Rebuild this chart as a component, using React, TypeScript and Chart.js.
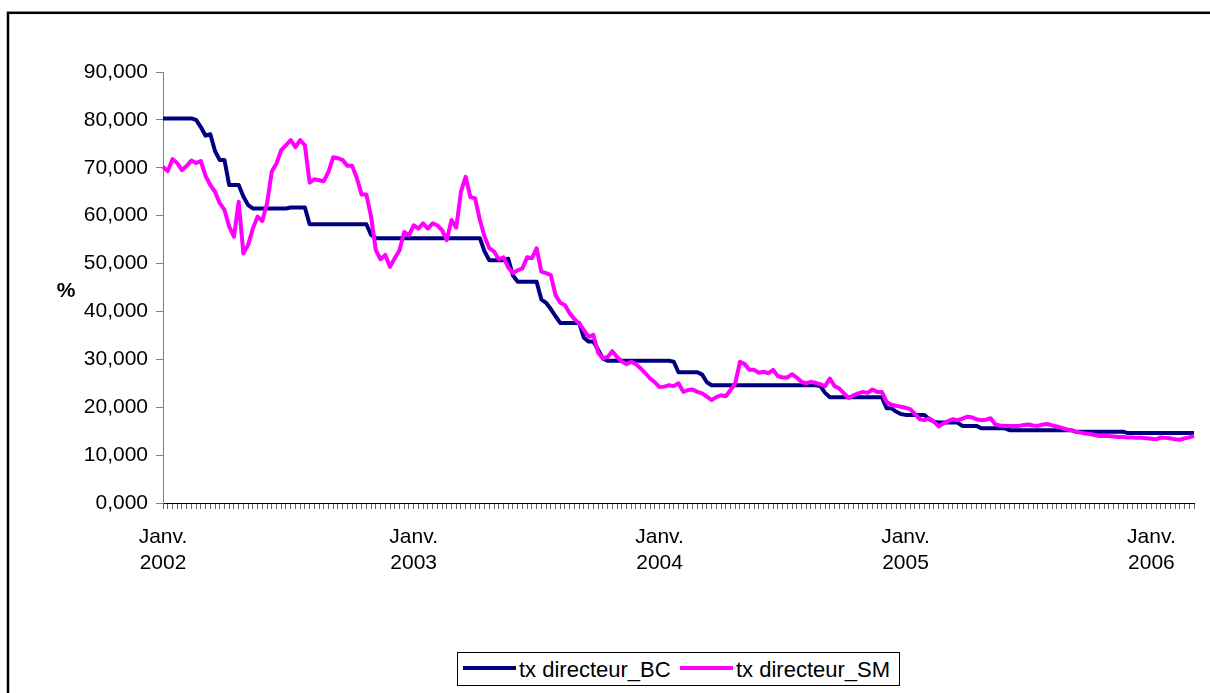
import React, { useEffect, useRef } from "react";
import { Chart, registerables } from "chart.js";

Chart.register(...registerables);

// Weekly observations, first week = 1 Jan 2002
const startDate = Date.UTC(2002, 0, 1);
const weekMs = 7 * 24 * 3600 * 1000;

const txBC: number[] = [
  80.3, 80.3, 80.3, 80.3, 80.3, 80.3, 80.3, 80.0, 78.5, 76.7,
  77.0, 73.5, 71.6, 71.6, 66.4, 66.4, 66.4, 64.0, 62.2, 61.5,
  61.5, 61.5, 61.5, 61.5, 61.5, 61.5, 61.5, 61.7, 61.7, 61.7,
  61.7, 58.2, 58.2, 58.2, 58.2, 58.2, 58.2, 58.2, 58.2, 58.2,
  58.2, 58.2, 58.2, 58.2, 56.0, 55.3, 55.3, 55.3, 55.3, 55.3,
  55.3, 55.3, 55.3, 55.3, 55.3, 55.3, 55.3, 55.3, 55.3, 55.3,
  55.3, 55.3, 55.3, 55.3, 55.3, 55.3, 55.3, 55.3, 52.5, 50.7,
  50.7, 50.7, 50.7, 51.0, 47.5, 46.2, 46.2, 46.2, 46.2, 46.2,
  42.5, 41.8, 40.5, 39.0, 37.6, 37.6, 37.6, 37.6, 37.6, 34.5,
  33.7, 33.7, 32.0, 30.2, 29.7, 29.7, 29.7, 29.7, 29.7, 29.7,
  29.7, 29.7, 29.7, 29.7, 29.7, 29.7, 29.7, 29.7, 29.5, 27.3,
  27.3, 27.3, 27.3, 27.3, 26.8, 25.2, 24.6, 24.6, 24.6, 24.6,
  24.6, 24.6, 24.6, 24.6, 24.6, 24.6, 24.6, 24.6, 24.6, 24.6,
  24.6, 24.6, 24.6, 24.6, 24.6, 24.6, 24.6, 24.6, 24.6, 24.4,
  23.0, 22.1, 22.1, 22.1, 22.1, 22.1, 22.1, 22.1, 22.1, 22.1,
  22.1, 22.1, 22.1, 19.8, 19.8, 19.1, 18.6, 18.4, 18.4, 18.4,
  18.4, 18.4, 17.5, 17.0, 16.8, 16.8, 16.8, 16.8, 16.8, 16.1,
  16.1, 16.1, 16.1, 15.6, 15.6, 15.6, 15.6, 15.6, 15.6, 15.2,
  15.2, 15.2, 15.2, 15.2, 15.2, 15.2, 15.2, 15.2, 15.2, 15.2,
  15.2, 15.2, 15.2, 14.9, 14.9, 14.9, 14.9, 14.9, 14.9, 14.9,
  14.9, 14.9, 14.9, 14.9, 14.6, 14.6, 14.6, 14.6, 14.6, 14.6,
  14.6, 14.6, 14.6, 14.6, 14.6, 14.6, 14.6, 14.6, 14.6,
];

const txSM: number[] = [
  70.2, 69.3, 71.8, 71.0, 69.5, 70.4, 71.5, 71.0, 71.4, 68.3,
  66.4, 65.0, 62.6, 61.2, 57.7, 55.6, 62.9, 52.1, 53.9, 57.3,
  59.8, 58.9, 62.6, 69.2, 70.9, 73.7, 74.7, 75.8, 74.3, 75.8,
  74.7, 66.9, 67.6, 67.4, 67.2, 69.2, 72.2, 72.0, 71.6, 70.4,
  70.4, 67.8, 64.4, 64.4, 59.8, 52.8, 50.9, 51.8, 49.3, 51.1,
  52.8, 56.6, 55.9, 58.0, 57.3, 58.4, 57.3, 58.4, 58.0, 57.0,
  54.9, 59.1, 57.5, 65.0, 68.1, 63.9, 63.6, 59.1, 55.6, 53.2,
  52.5, 50.9, 51.3, 49.2, 48.0, 48.6, 49.0, 51.3, 51.1, 53.2,
  48.3, 48.0, 47.6, 43.4, 41.8, 41.3, 39.6, 38.4, 37.5, 36.1,
  34.7, 35.1, 31.4, 30.2, 30.5, 31.7, 30.5, 29.6, 29.0, 29.5,
  29.0, 28.1, 27.1, 26.0, 25.2, 24.2, 24.3, 24.6, 24.4, 25.0,
  23.2, 23.6, 23.7, 23.2, 22.9, 22.2, 21.5, 22.1, 22.5, 22.3,
  23.6, 25.0, 29.5, 29.0, 27.8, 27.8, 27.2, 27.4, 27.1, 27.8,
  26.5, 26.2, 26.2, 26.9, 26.2, 25.3, 25.0, 25.3, 25.1, 24.8,
  24.4, 26.0, 24.4, 23.9, 22.9, 21.9, 22.5, 22.9, 23.2, 23.0,
  23.7, 23.2, 23.2, 21.1, 20.5, 20.3, 20.1, 19.9, 19.6, 18.6,
  17.5, 17.3, 17.7, 17.0, 16.0, 16.6, 17.1, 17.5, 17.3, 17.6,
  18.0, 17.9, 17.5, 17.3, 17.4, 17.7, 16.4, 16.2, 16.1, 16.1,
  16.1, 16.1, 16.3, 16.4, 16.2, 16.1, 16.4, 16.5, 16.2, 16.0,
  15.7, 15.4, 15.2, 14.9, 14.7, 14.5, 14.4, 14.2, 14.0, 14.0,
  14.0, 13.9, 13.8, 13.8, 13.7, 13.7, 13.6, 13.6, 13.5, 13.4,
  13.3, 13.7, 13.6, 13.5, 13.3, 13.2, 13.5, 13.7, 14.0,
];

const categories: string[] = txBC.map((_, i) =>
  new Date(startDate + i * weekMs).toISOString().slice(0, 10)
);

const monthLabel = "Janv.";
const seriesNames = ["tx directeur_BC", "tx directeur_SM"];
const seriesColors = ["#000080", "#FF00FF"];
const yMin = 0;
const yMax = 90;
const yStep = 10;
const yTitle = "%";

const FONT = '"Liberation Sans", Arial, Helvetica, sans-serif';

export default function App() {
  const canvasRef = useRef<HTMLCanvasElement>(null);

  useEffect(() => {
    const frame = {
      id: "frame",
      beforeDraw(chart: any) {
        const c = chart.ctx;
        c.save();
        c.fillStyle = "#ffffff";
        c.fillRect(0, 0, chart.width, chart.height);
        c.strokeStyle = "#000000";
        c.lineWidth = 2.5;
        c.strokeRect(8, 12.8, 1400, 900);
        c.restore();
      },
    };

    const chart = new Chart(canvasRef.current as HTMLCanvasElement, {
      type: "line",
      data: {
        labels: categories,
        datasets: [
          {
            label: seriesNames[0],
            data: txBC,
            borderColor: seriesColors[0],
            backgroundColor: seriesColors[0],
            borderWidth: 4,
            pointRadius: 0,
            tension: 0,
            borderJoinStyle: "round",
            order: 1,
          },
          {
            label: seriesNames[1],
            data: txSM,
            borderColor: seriesColors[1],
            backgroundColor: seriesColors[1],
            borderWidth: 4,
            pointRadius: 0,
            tension: 0,
            borderJoinStyle: "round",
            order: 0,
          },
        ],
      },
      options: {
        animation: false,
        responsive: false,
        devicePixelRatio: 1,
        layout: { padding: { left: 0, right: 13, top: 72, bottom: 0 } },
        plugins: {
          legend: { display: false },
          tooltip: { enabled: false },
        },
        scales: {
          x: {
            type: "category",
            offset: false,
            grid: {
              display: true,
              drawOnChartArea: false,
              drawTicks: true,
              tickLength: 6,
              tickColor: "#666666",
              color: "#666666",
            },
            border: { display: true, color: "#000000", width: 1 },
            ticks: {
              autoSkip: false,
              maxRotation: 0,
              minRotation: 0,
              padding: 16,
              color: "#000000",
              font: { family: FONT, size: 21, lineHeight: 1.2 },
              callback: (_v: any, i: number) => {
                const d = new Date(categories[i]);
                if (d.getUTCMonth() === 0 && d.getUTCDate() <= 7) {
                  return [monthLabel, String(d.getUTCFullYear())];
                }
                return "";
              },
            },
            afterFit: (s: any) => {
              s.height = 190;
            },
          },
          y: {
            min: yMin,
            max: yMax,
            grid: {
              display: true,
              drawOnChartArea: false,
              drawTicks: true,
              tickLength: 7,
              tickColor: "#808080",
              color: "#808080",
            },
            border: { display: true, color: "#808080", width: 1 },
            ticks: {
              stepSize: yStep,
              padding: 8,
              color: "#000000",
              font: { family: FONT, size: 21 },
              callback: (v: any) => Number(v).toFixed(3).replace(".", ","),
            },
            afterFit: (s: any) => {
              s.width = 163;
            },
          },
        },
      },
      plugins: [frame],
    } as any);

    return () => chart.destroy();
  }, []);

  return (
    <div
      style={{
        position: "absolute",
        left: 0,
        top: 0,
        width: 1210,
        height: 693,
        overflow: "hidden",
        background: "#fff",
      }}
    >
      <canvas
        ref={canvasRef}
        width={1210}
        height={693}
        style={{ display: "block", width: 1210, height: 693 }}
      />
      <div
        style={{
          position: "absolute",
          left: 55,
          top: 279,
          width: 22,
          textAlign: "center",
          font: `bold 21px ${FONT}`,
          lineHeight: "21px",
          color: "#000",
        }}
      >
        {yTitle}
      </div>
      <div
        style={{
          position: "absolute",
          left: 457,
          top: 652,
          width: 443,
          height: 34,
          boxSizing: "border-box",
          border: "1px solid #000",
          background: "#fff",
          font: `22px ${FONT}`,
          color: "#000",
        }}
      >
        <div
          style={{
            position: "absolute",
            left: 5,
            top: 13,
            width: 53,
            height: 4,
            background: seriesColors[0],
          }}
        />
        <div
          style={{
            position: "absolute",
            left: 61,
            top: 6,
            lineHeight: "22px",
            whiteSpace: "nowrap",
          }}
        >
          {seriesNames[0]}
        </div>
        <div
          style={{
            position: "absolute",
            left: 222,
            top: 13,
            width: 53,
            height: 4,
            background: seriesColors[1],
          }}
        />
        <div
          style={{
            position: "absolute",
            left: 278,
            top: 6,
            lineHeight: "22px",
            whiteSpace: "nowrap",
          }}
        >
          {seriesNames[1]}
        </div>
      </div>
    </div>
  );
}
